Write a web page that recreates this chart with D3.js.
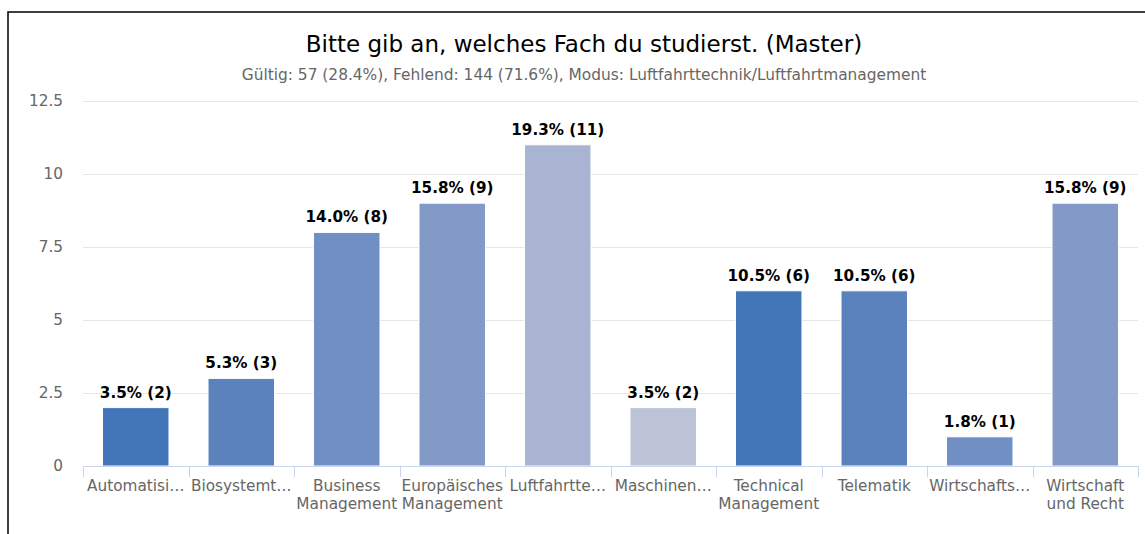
<!DOCTYPE html>
<html>
<head>
<meta charset="utf-8">
<script src="https://cdn.jsdelivr.net/npm/d3@7"></script>
<style>
  html, body { margin: 0; padding: 0; background: #fff; overflow: hidden; }
  svg { display: block; font-family: "DejaVu Sans", sans-serif; }
</style>
</head>
<body>
<svg id="chart" width="1145" height="534"></svg>
<script>
const categories = [
  ["Automatisi…"],
  ["Biosystemt…"],
  ["Business", "Management"],
  ["Europäisches", "Management"],
  ["Luftfahrtte…"],
  ["Maschinen…"],
  ["Technical", "Management"],
  ["Telematik"],
  ["Wirtschafts…"],
  ["Wirtschaft", "und Recht"]
];
const counts = [2, 3, 8, 9, 11, 2, 6, 6, 1, 9];
const percents = ["3.5%", "5.3%", "14.0%", "15.8%", "19.3%", "3.5%", "10.5%", "10.5%", "1.8%", "15.8%"];
const colors = ["#4376b8", "#5b82bd", "#7090c5", "#8399c7", "#a8b4d1", "#bcc3d6", "#4376b8", "#5b82bd", "#7090c5", "#8399c7"];
const yTicks = [0, 2.5, 5, 7.5, 10, 12.5];
const yTickLabels = ["0", "2.5", "5", "7.5", "10", "12.5"];
const titleText = "Bitte gib an, welches Fach du studierst. (Master)";
const subtitleText = "Gültig: 57 (28.4%), Fehlend: 144 (71.6%), Modus: Luftfahrttechnik/Luftfahrtmanagement";

(function () {
const svg = d3.select("#chart");
const mLeft = 83, mRight = 1138, mTop = 101, mBottom = 466;

// outer border
svg.append("rect").attr("x", 8).attr("y", 12).attr("width", 1200).attr("height", 600)
  .attr("fill", "none").attr("stroke", "#000").attr("stroke-width", 1.5);

const x = d3.scaleBand().domain(d3.range(categories.length)).range([mLeft, mRight]).padding(0);
const y = d3.scaleLinear().domain([0, 12.5]).range([mBottom, mTop]);

// title
svg.append("text").attr("x", 584).attr("y", 52).attr("text-anchor", "middle")
  .attr("font-size", 23).attr("fill", "#000").text(titleText);
svg.append("text").attr("x", 584).attr("y", 80).attr("text-anchor", "middle")
  .attr("font-size", 15.4).attr("fill", "#666").text(subtitleText);

// gridlines
svg.append("g").selectAll("line").data(yTicks).join("line")
  .attr("x1", mLeft).attr("x2", mRight)
  .attr("y1", d => Math.round(y(d)) + 0.5).attr("y2", d => Math.round(y(d)) + 0.5)
  .attr("stroke", "#e6e6e6").attr("stroke-width", 1);

// y labels
svg.append("g").selectAll("text").data(yTicks).join("text")
  .attr("x", 63).attr("y", d => y(d) + 5).attr("text-anchor", "end")
  .attr("font-size", 15.3).attr("fill", "#666").text((d, i) => yTickLabels[i]);

// bars
const bw = x.bandwidth() * 0.63;
svg.append("g").selectAll("rect").data(counts).join("rect")
  .attr("x", (d, i) => x(i) + (x.bandwidth() - bw) / 2)
  .attr("y", d => y(d))
  .attr("width", bw)
  .attr("height", d => y(0) - y(d))
  .attr("fill", (d, i) => colors[i])
  .attr("stroke", "#fff").attr("stroke-width", 1);

// data labels
svg.append("g").selectAll("text").data(counts).join("text")
  .attr("x", (d, i) => x(i) + x.bandwidth() / 2)
  .attr("y", d => y(d) - 10)
  .attr("text-anchor", "middle").attr("font-size", 15.2).attr("font-weight", "bold").attr("fill", "#000")
  .text((d, i) => `${percents[i]} (${d})`);

// x axis line
svg.append("line").attr("x1", mLeft).attr("x2", mRight).attr("y1", mBottom + 0.5).attr("y2", mBottom + 0.5)
  .attr("stroke", "#ccd6eb").attr("stroke-width", 1);
// ticks at band boundaries
const boundaries = d3.range(categories.length + 1).map(i => mLeft + i * x.step());
svg.append("g").selectAll("line").data(boundaries).join("line")
  .attr("x1", d => Math.round(d) + 0.5).attr("x2", d => Math.round(d) + 0.5)
  .attr("y1", mBottom).attr("y2", mBottom + 11)
  .attr("stroke", "#ccd6eb").attr("stroke-width", 1);

// x labels
const xl = svg.append("g").selectAll("text").data(categories).join("text")
  .attr("x", (d, i) => x(i) + x.bandwidth() / 2)
  .attr("y", 491)
  .attr("text-anchor", "middle").attr("font-size", 15.3).attr("fill", "#666");
xl.selectAll("tspan").data(d => d).join("tspan")
  .attr("x", function() { return d3.select(this.parentNode).attr("x"); })
  .attr("dy", (d, i) => i === 0 ? 0 : 18)
  .text(d => d);
})();
</script>
</body>
</html>
